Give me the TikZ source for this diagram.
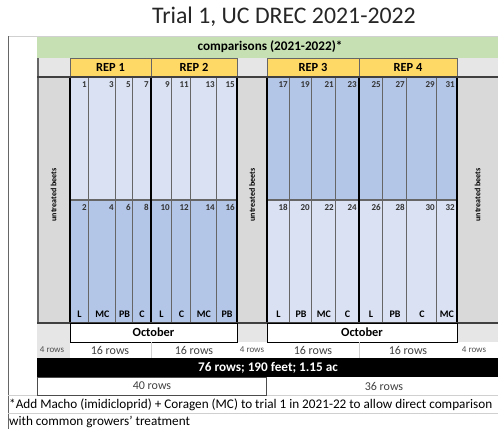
\documentclass[tikz,border=0pt]{standalone}
\usepackage{fontspec}
\setmainfont{Carlito}
\definecolor{headgreen}{HTML}{C6E0B4}
\definecolor{repyellow}{HTML}{FFD966}
\definecolor{plotlight}{HTML}{D9E1F2}
\definecolor{plotdark}{HTML}{B4C6E7}
\definecolor{beetgray}{HTML}{D9D9D9}
\definecolor{cellgray}{HTML}{E7E6E6}
\definecolor{gridgray}{HTML}{D0D0D0}
\definecolor{titlegray}{HTML}{262626}
\usetikzlibrary{positioning}

\tikzset{
  plotline/.style={draw=black!60, line width=1.2pt},
  repline/.style={draw=black, line width=1.2pt},
  gridline/.style={draw=gridgray, line width=0.6pt},
  plotnum/.style={anchor=north east, inner sep=1pt, font=\fontsize{9}{10}\selectfont\bfseries, text=black!80},
  trtlbl/.style={inner sep=0pt, font=\fontsize{10}{11}\selectfont\bfseries},
  replbl/.style={font=\fontsize{12.4}{13}\selectfont\bfseries},
  beetlbl/.style={rotate=90, font=\fontsize{8}{9}\selectfont\bfseries},
  rowlbl/.style={font=\fontsize{12}{13}\selectfont, text=black!75},
  smallrow/.style={font=\fontsize{9}{10}\selectfont, text=black!70}
}

\begin{document}
\begin{tikzpicture}[x=1pt,y=-1pt]
  \useasboundingbox (0,0) rectangle (498,429);

  % title
  \node[font=\fontsize{23.8}{26}\selectfont, text=titlegray] (title) at (284,17) {Trial 1, UC DREC 2021-2022};

  % sheet grid and frame
  \draw[gridline] (8,36) -- (498,36);
  \draw[black!60, line width=0.8pt] (8,36) -- (8,429);
  \draw[gridline] (8,395) -- (498,395);
  \draw[gridline] (8,413) -- (498,413);

  % comparisons header
  \fill[headgreen] (37,37) rectangle (498,58);
  \node[replbl, font=\fontsize{13.2}{14}\selectfont\bfseries] (cmp) at (270,47) {comparisons (2021-2022)*};

  % untreated beets columns
  \foreach \xa/\xb in {37/70, 237/267, 457/498}{
    \fill[cellgray] (\xa,58) rectangle (\xb,77);
    \fill[beetgray] (\xa,77) rectangle (\xb,323);
    \fill[cellgray] (\xa,323) rectangle (\xb,342);
    \node[beetlbl] at ({(\xa+\xb)/2},195) {untreated beets};
  }
  \draw[black!60, line width=1.5pt] (38,58) -- (38,323);

  % rep headers
  \foreach \xa/\xb/\rep in {70/151/1, 151/237/2, 267/359/3, 359/457/4}{
    \fill[repyellow] (\xa,58) rectangle (\xb,77);
    \draw[black!60, line width=0.6pt] (\xa,58) rectangle (\xb,77);
    \node[replbl] at ({(\xa+\xb)/2},67.5) {REP \rep};
  }

  % plots, REP 1 and 2
  \foreach \xa/\xb/\nu/\nl/\trt in {70/89/1/2/L, 89/116/3/4/MC, 116/133/5/6/PB, 133/151/7/8/C,
      151/172/9/10/L, 172/191/11/12/C, 191/217/13/14/MC, 217/237/15/16/PB}{
    \fill[plotlight] (\xa,77) rectangle (\xb,200);
    \fill[plotdark] (\xa,200) rectangle (\xb,323);
    \draw[plotline] (\xb,77) -- (\xb,323);
    \node[plotnum] at (\xb-1,80) {\nu};
    \node[plotnum] at (\xb-1,203) {\nl};
    \node[trtlbl] at ({(\xa+\xb)/2},314) {\trt};
  }

  % plots, REP 3 and 4
  \foreach \xa/\xb/\nu/\nl/\trt in {267/290/17/18/L, 290/312/19/20/PB, 312/336/21/22/MC, 336/359/23/24/C,
      359/383/25/26/L, 383/407/27/28/PB, 407/437/29/30/C, 437/457/31/32/MC}{
    \fill[plotdark] (\xa,77) rectangle (\xb,200);
    \fill[plotlight] (\xa,200) rectangle (\xb,323);
    \draw[plotline] (\xb,77) -- (\xb,323);
    \node[plotnum] at (\xb-1,80) {\nu};
    \node[plotnum] at (\xb-1,203) {\nl};
    \node[trtlbl] at ({(\xa+\xb)/2},314) {\trt};
  }

  % plot outlines
  \draw[plotline] (70,200) -- (237,200);
  \draw[plotline] (267,200) -- (457,200);
  \foreach \x in {70, 151, 237, 267, 359, 457}
    \draw[repline] (\x,77) -- (\x,323);
  \draw[black!75, line width=1.2pt] (37,77) -- (498,77);
  \draw[black!75, line width=1.2pt] (37,323) -- (498,323);

  % planting month
  \draw[black, line width=0.9pt, fill=white] (70,323) rectangle (237,342);
  \draw[black, line width=0.9pt, fill=white] (267,323) rectangle (457,342);
  \node[replbl] (octA) at (153.5,332.5) {October};
  \node[replbl] (octB) at (362,332.5) {October};

  % row counts
  \fill[cellgray] (37,342) rectangle (70,358);
  \draw[gridline] (151,342) -- (151,358);
  \draw[gridline] (359,342) -- (359,358);
  \node[smallrow] at (52,350) {4 rows};
  \node[rowlbl] at (110,350) {16 rows};
  \node[rowlbl] at (194,350) {16 rows};
  \node[smallrow] at (252,350) {4 rows};
  \node[rowlbl] at (313,350) {16 rows};
  \node[rowlbl] at (408,350) {16 rows};
  \node[smallrow] at (474,350) {4 rows};

  % totals
  \fill[black] (37,358) rectangle (498,377);
  \node[replbl, text=white, font=\fontsize{13.2}{14}\selectfont\bfseries] (total) at (268,367.5) {76 rows; 190 feet; 1.15 ac};
  \draw[black!70, line width=0.9pt] (37,377) rectangle (266,395);
  \draw[black!70, line width=0.9pt] (266,377) -- (266,395);
  \node[rowlbl] at (152,386) {40 rows};
  \node[rowlbl] at (384,386) {36 rows};

  % footnote
  \node[anchor=west, inner sep=0pt, font=\fontsize{13.2}{14}\selectfont] (note1) at (9,404.5)
    {*Add Macho (imidicloprid) + Coragen (MC) to trial 1 in 2021-22 to allow direct comparison};
  \node[anchor=west, inner sep=0pt, font=\fontsize{13.2}{14}\selectfont] (note2) at (9,421.5)
    {with common growers' treatment};
\end{tikzpicture}
\end{document}
